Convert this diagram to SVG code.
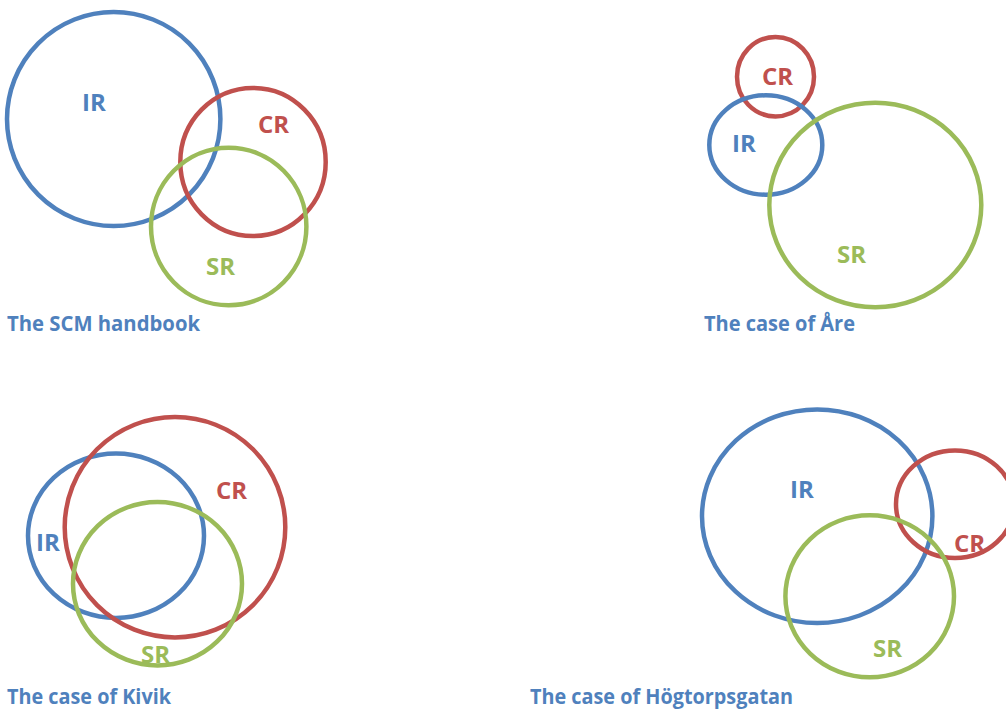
<svg xmlns="http://www.w3.org/2000/svg" width="1006" height="709" viewBox="0 0 1006 709">
<style>
.c{fill:none;stroke-width:4.5}
.ir{stroke:#4F81BD}
.cr{stroke:#C0504D}
.sr{stroke:#9BBB59}
.lb{font-family:"Open Sans","Liberation Sans",sans-serif;font-weight:bold;font-size:24px}
.t{font-family:"Open Sans","Liberation Sans",sans-serif;font-weight:bold;font-size:21px;fill:#4F81BD}
.tir{fill:#4F81BD}
.tcr{fill:#C0504D}
.tsr{fill:#9BBB59}
</style>
<rect width="1006" height="709" fill="#FFFFFF"/>
<g id="panel-scm">
  <g id="scm-ir"><ellipse class="c ir" cx="113.7" cy="119" rx="106.7" ry="107"/><text class="lb tir" x="82" y="111">IR</text></g>
  <g id="scm-cr"><ellipse class="c cr" cx="253" cy="162" rx="72.7" ry="74"/><text class="lb tcr" x="258" y="133">CR</text></g>
  <g id="scm-sr"><ellipse class="c sr" cx="228.7" cy="226.5" rx="77.7" ry="78.8"/><text class="lb tsr" x="206" y="275">SR</text></g>
  <text class="t" x="7" y="331" textLength="193" lengthAdjust="spacingAndGlyphs">The SCM handbook</text>
</g>
<g id="panel-are">
  <g id="are-cr"><ellipse class="c cr" cx="775.5" cy="76.7" rx="38.5" ry="39.7"/><text class="lb tcr" x="762" y="85">CR</text></g>
  <g id="are-ir"><ellipse class="c ir" cx="765.8" cy="145" rx="56.5" ry="49.7"/><text class="lb tir" x="732" y="152">IR</text></g>
  <g id="are-sr"><ellipse class="c sr" cx="875.3" cy="205" rx="106" ry="102.3"/><text class="lb tsr" x="837" y="263">SR</text></g>
  <text class="t" x="704" y="331" textLength="151" lengthAdjust="spacingAndGlyphs">The case of Åre</text>
</g>
<g id="panel-kivik">
  <g id="kivik-ir"><ellipse class="c ir" cx="116" cy="535.8" rx="88" ry="82.2"/><text class="lb tir" x="36" y="551">IR</text></g>
  <g id="kivik-cr"><ellipse class="c cr" cx="175" cy="527.2" rx="110.3" ry="110.2"/><text class="lb tcr" x="216" y="499">CR</text></g>
  <g id="kivik-sr"><ellipse class="c sr" cx="157.5" cy="583.7" rx="84.5" ry="81.7"/><text class="lb tsr" x="141" y="663">SR</text></g>
  <text class="t" x="7" y="704" textLength="164" lengthAdjust="spacingAndGlyphs">The case of Kivik</text>
</g>
<g id="panel-hogtorpsgatan">
  <g id="hog-ir"><ellipse class="c ir" cx="817.2" cy="516.2" rx="115.2" ry="106.8"/><text class="lb tir" x="790" y="498">IR</text></g>
  <g id="hog-cr"><ellipse class="c cr" cx="955" cy="504.2" rx="59" ry="53.8"/><text class="lb tcr" x="954" y="552">CR</text></g>
  <g id="hog-sr"><ellipse class="c sr" cx="869.7" cy="596.3" rx="84.3" ry="81"/><text class="lb tsr" x="873" y="657">SR</text></g>
  <text class="t" x="530" y="704" textLength="263" lengthAdjust="spacingAndGlyphs">The case of Högtorpsgatan</text>
</g>
<g id="connectors"/>
</svg>
